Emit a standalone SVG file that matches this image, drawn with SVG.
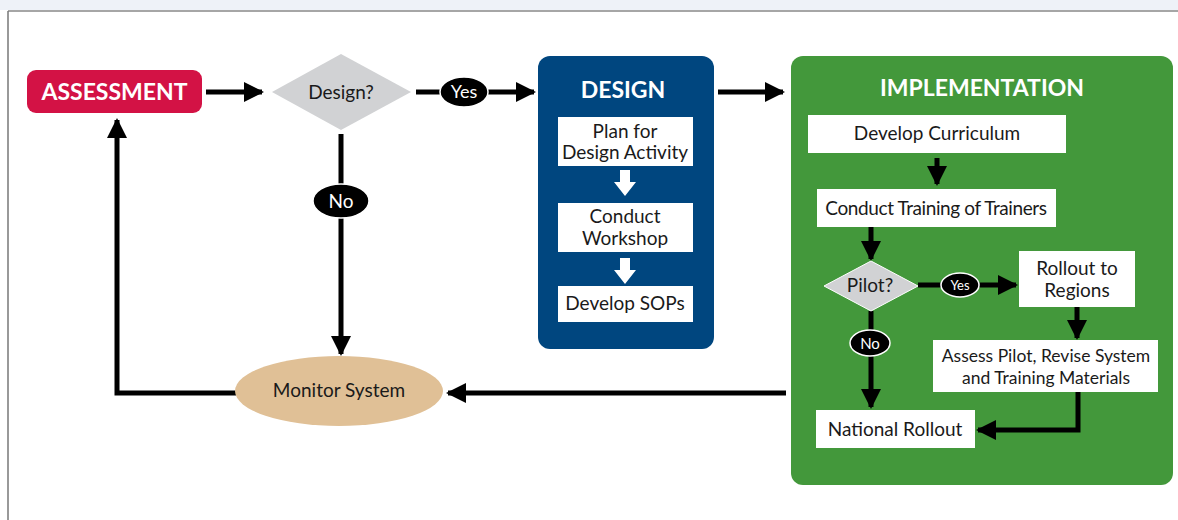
<svg xmlns="http://www.w3.org/2000/svg" width="1178" height="520" viewBox="0 0 1178 520">
<defs>
<style>
text{font-family:Lato,"Open Sans","Liberation Sans",sans-serif;text-anchor:middle;}
.lbl{font-size:19px;fill:#1a1a1a;}
.wt{font-size:23px;font-weight:bold;fill:#fff;}
.box{fill:#fff;}
.ln{stroke:#000;stroke-width:5;fill:none;}
.pill{fill:#000;stroke:#fff;stroke-width:1.5;}
.pt{fill:#fff;font-size:18px;}
</style>
<marker id="ah" viewBox="0 0 10 10" refX="9" refY="5" markerWidth="4" markerHeight="4.4" markerUnits="strokeWidth" orient="auto">
<path d="M0,0 L10,5 L0,10 z" fill="#000"/>
</marker>
</defs>
<rect x="0" y="0" width="1178" height="10" fill="#eef2f8"/>
<line x1="8" y1="11" x2="1178" y2="11" stroke="#888" stroke-width="1.5"/>
<line x1="8" y1="11" x2="8" y2="520" stroke="#777" stroke-width="1.5"/>

<g id="design">
<rect x="538" y="56" width="176" height="293" rx="12" fill="#00467f"/>
<text class="wt" x="623" y="98">DESIGN</text>
<rect class="box" x="558" y="117" width="135" height="49"/>
<text class="lbl" x="625" y="138">Plan for</text>
<text class="lbl" x="625" y="159">Design Activity</text>
<polygon points="620,170 630,170 630,182 636,182 625,196 614,182 620,182" fill="#fff"/>
<rect class="box" x="558" y="203" width="135" height="49"/>
<text class="lbl" x="625" y="223">Conduct</text>
<text class="lbl" x="625" y="245">Workshop</text>
<polygon points="620,258 630,258 630,270 636,270 625,284 614,270 620,270" fill="#fff"/>
<rect class="box" x="558" y="286" width="135" height="36"/>
<text class="lbl" x="625" y="310">Develop SOPs</text>
</g>

<g id="implementation">
<rect x="791" y="56" width="382" height="429" rx="12" fill="#43983b"/>
<text class="wt" x="982" y="96">IMPLEMENTATION</text>
</g>

<g id="connectors">
<line class="ln" x1="206" y1="92" x2="262" y2="92" marker-end="url(#ah)"/>
<line class="ln" x1="416" y1="92" x2="440" y2="92"/>
<line class="ln" x1="488" y1="92" x2="534" y2="92" marker-end="url(#ah)"/>
<line class="ln" x1="718" y1="92" x2="783" y2="92" marker-end="url(#ah)"/>
<line class="ln" x1="341" y1="134" x2="341" y2="354" marker-end="url(#ah)"/>
<line class="ln" x1="786" y1="393" x2="448" y2="393" marker-end="url(#ah)"/>
<polyline class="ln" points="236,393 117,393 117,120" marker-end="url(#ah)"/>
<line class="ln" x1="937" y1="158" x2="937" y2="184" marker-end="url(#ah)"/>
<line class="ln" x1="871" y1="227" x2="871" y2="259" marker-end="url(#ah)"/>
<line class="ln" x1="918" y1="285" x2="942" y2="285"/>
<line class="ln" x1="978" y1="285" x2="1016" y2="285" marker-end="url(#ah)"/>
<line class="ln" x1="1077" y1="307" x2="1077" y2="338" marker-end="url(#ah)"/>
<line class="ln" x1="871" y1="311" x2="871" y2="407" marker-end="url(#ah)"/>
<polyline class="ln" points="1078,392 1078,430 978,430" marker-end="url(#ah)"/>
</g>

<g id="assessment">
<rect x="27" y="70" width="175" height="43" rx="9" fill="#d31245"/>
<text class="wt" x="114.5" y="100">ASSESSMENT</text>
</g>

<g id="design-decision">
<polygon points="272,92 341,54 411,92 341,130" fill="#d1d2d4"/>
<text class="lbl" x="341" y="99">Design?</text>
</g>

<g id="yes1">
<ellipse class="pill" cx="464" cy="92" rx="24" ry="15"/>
<text class="pt" x="464" y="98">Yes</text>
</g>

<g id="no1">
<ellipse class="pill" cx="341" cy="201" rx="28" ry="17"/>
<text class="pt" x="341" y="208" style="font-size:19px">No</text>
</g>

<g id="develop-curriculum">
<rect class="box" x="808" y="115" width="258" height="38"/>
<text class="lbl" x="937" y="140">Develop Curriculum</text>
</g>

<g id="training">
<rect class="box" x="817" y="189" width="239" height="38"/>
<text class="lbl" x="936" y="215" letter-spacing="-0.4">Conduct Training of Trainers</text>
</g>

<g id="pilot">
<polygon points="824,286 871,261 918,286 871,311" fill="#d1d2d4" stroke="#fff" stroke-width="1"/>
<text class="lbl" x="870" y="292">Pilot?</text>
</g>

<g id="yes2">
<ellipse class="pill" cx="960" cy="285" rx="19" ry="12"/>
<text class="pt" x="960" y="290" style="font-size:13px">Yes</text>
</g>

<g id="no2">
<ellipse class="pill" cx="870" cy="343" rx="20" ry="13"/>
<text class="pt" x="870" y="348.5" style="font-size:15px">No</text>
</g>

<g id="rollout-regions">
<rect class="box" x="1019" y="251" width="116" height="56"/>
<text class="lbl" x="1077" y="275">Rollout to</text>
<text class="lbl" x="1077" y="297">Regions</text>
</g>

<g id="assess-pilot">
<rect class="box" x="933" y="340" width="225" height="52"/>
<text class="lbl" x="1046" y="362" style="font-size:17.5px">Assess Pilot, Revise System</text>
<text class="lbl" x="1046" y="384" style="font-size:17.5px">and Training Materials</text>
</g>

<g id="national-rollout">
<rect class="box" x="816" y="410" width="159" height="38"/>
<text class="lbl" x="895" y="436">National Rollout</text>
</g>

<g id="monitor">
<ellipse cx="339" cy="391" rx="104" ry="35" fill="#e0c096"/>
<text class="lbl" x="339" y="397">Monitor System</text>
</g>
</svg>
